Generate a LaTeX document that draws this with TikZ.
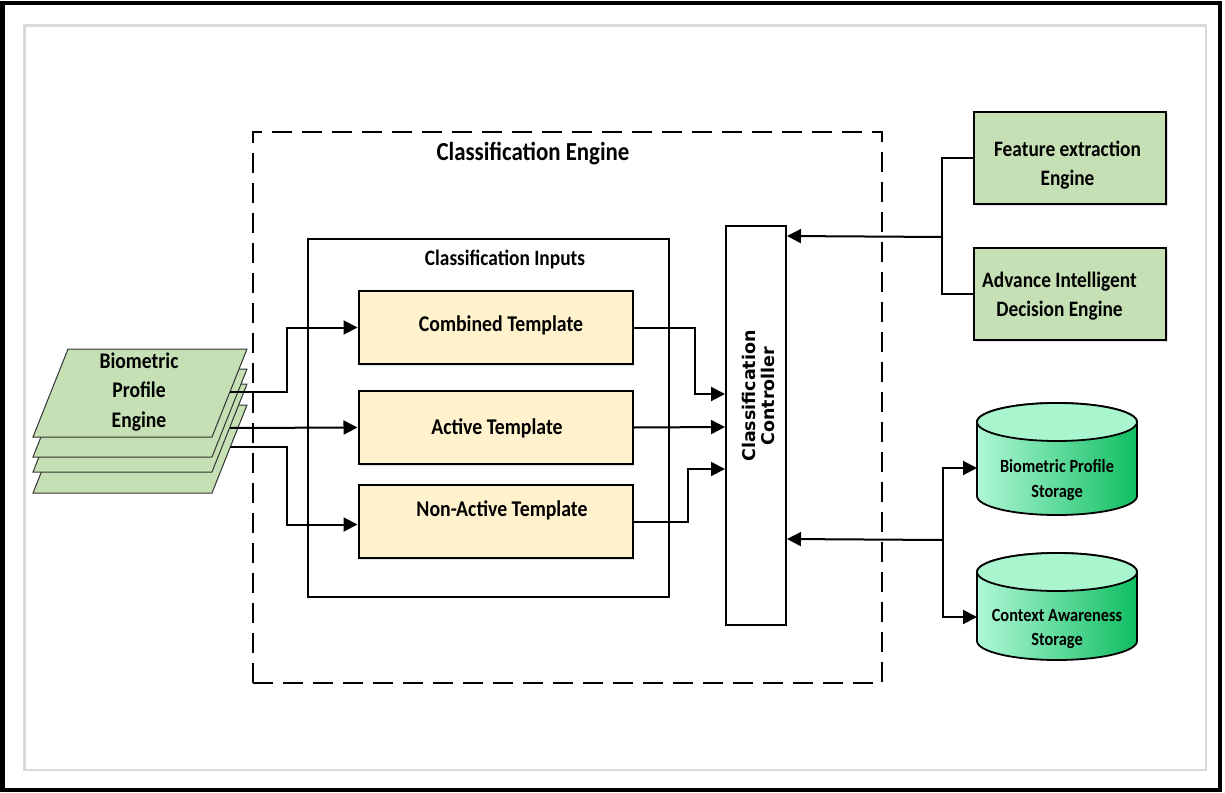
\documentclass[tikz,border=0pt]{standalone}
\usepackage{fontspec}
\setmainfont{Carlito}[FakeStretch=0.88]
\newfontfamily\ctrlfont{DejaVu Sans}
\usetikzlibrary{arrows.meta,shadows,calc}
\definecolor{boxgreen}{HTML}{C5E0B4}
\definecolor{tmplfill}{HTML}{FFF2CC}
\definecolor{cylL}{HTML}{B0F7D6}
\definecolor{cylR}{HTML}{10BE62}
\definecolor{cyltop}{HTML}{A8F5CE}
\definecolor{framegrey}{HTML}{D9D9D9}
\newcommand\mycyl[3]{%
  \path[left color=cylL, right color=cylR, draw=black, line width=1.8pt]
    (#1-80,#2) -- (#1-80,#3) arc[start angle=180,end angle=360,x radius=80pt,y radius=19pt]
    -- (#1+80,#2) arc[start angle=0,end angle=180,x radius=80pt,y radius=19pt] -- cycle;
  \draw[fill=cyltop, line width=1.8pt] (#1,#2) ellipse[x radius=80pt, y radius=19pt];}
\newcommand\mylayer[1]{%
  \draw[fill=boxgreen, draw=black!80, line width=1pt]
    (68,349+#1) -- (247,349+#1) -- (212,437+#1) -- (33,437+#1) -- cycle;}
\begin{document}
\begin{tikzpicture}[x=1pt,y=-1pt,
  lbl/.style={font=\bfseries\fontsize{22}{29}\selectfont, align=center, inner sep=0},
  tmpl/.style={draw, line width=2pt, fill=tmplfill, minimum width=274pt, minimum height=73pt, inner sep=0,
     drop shadow={shadow xshift=1.5pt, shadow yshift=-1.5pt, opacity=0.25}},
  gbox/.style={draw, line width=2pt, fill=boxgreen, minimum width=192pt, minimum height=92pt, inner sep=0,
     drop shadow={shadow xshift=1.5pt, shadow yshift=-1.5pt, opacity=0.25}},
  arr/.style={line width=2pt, -{Triangle[length=14pt,width=14pt]}},
  ln/.style={line width=2pt}]
\useasboundingbox (0,0) rectangle (1225,792);
% frames
\draw[line width=4.5pt] (2.5,3) rectangle (1220,790);
\draw[framegrey, line width=2.5pt] (24.5,25.5) rectangle (1206,770);
% classification engine
\node[draw, line width=2pt, dash pattern=on 20pt off 10pt, minimum width=629pt, minimum height=551pt, inner sep=0] (ce) at (567.5,407.5) {};
\node[lbl, font=\bfseries\fontsize{26}{30}\selectfont] (cet) at (533,154) {Classification Engine};
\node[draw, line width=2pt, minimum width=361pt, minimum height=358pt, inner sep=0] (ci) at (488.5,418) {};
\node[lbl] (cit) at (505,259) {Classification Inputs};
% templates
\node[tmpl] (comb) at (495.5,327.5) {};
\node[lbl, font=\bfseries\fontsize{22.5}{26}\selectfont] (combt) at (501,325) {Combined Template};
\node[tmpl] (act) at (495.5,427.5) {};
\node[lbl, font=\bfseries\fontsize{22.5}{26}\selectfont] (actt) at (497,428) {Active Template};
\node[tmpl] (nonact) at (495.5,521.5) {};
\node[lbl, font=\bfseries\fontsize{22.5}{26}\selectfont] (nonactt) at (502,510) {Non-Active Template};
% controller
\node[draw, line width=2pt, fill=white, minimum width=60pt, minimum height=399pt, inner sep=0] (ctrl) at (756,425.5) {};
\node[rotate=90, align=center, inner sep=0, font=\ctrlfont\bfseries\fontsize{17.5}{19}\selectfont] (ctrlt) at (758,396) {Classification\\Controller};
% right boxes
\node[gbox] (fe) at (1070,158) {};
\node[lbl] (fet) at (1067.5,165.5) {Feature extraction\\Engine};
\node[gbox] (ai) at (1070,294) {};
\node[lbl] (ait) at (1059.5,296) {Advance Intelligent\\Decision Engine};
% cylinders
\mycyl{1057}{422}{496}
\node[lbl, font=\bfseries\fontsize{18.6}{25}\selectfont] (bps) at (1057,480.5) {Biometric Profile\\Storage};
\mycyl{1057}{572}{641}
\node[lbl, font=\bfseries\fontsize{18.6}{24}\selectfont] (cas) at (1057,629) {Context Awareness\\Storage};
% stack
\mylayer{56}
\mylayer{35}
\mylayer{20}
\mylayer{0}
\node[lbl, font=\bfseries\fontsize{22.3}{29.5}\selectfont] (bpe) at (139,392) {Biometric\\Profile\\Engine};
% connectors from stack
\coordinate (s1) at (230,392);
\coordinate (s2) at (230,428);
\coordinate (s3) at (230,447);
\draw[arr] (s1) -- ++(57,0) |- (comb.west);
\draw[arr] (s2) -- (act.west);
\draw[arr] (s3) -- ++(57,0) |- ($(nonact.west)+(0,3)$);
% to controller
\draw[arr] (comb.east) -- ++(61,0) |- ($(ctrl.north west)+(0,169)$);
\draw[arr] (act.east) -- ($(ctrl.north west)+(0,202)$);
\draw[arr] (nonact.east) -- ++(54,0) |- ($(ctrl.north west)+(0,244)$);
% right side
\coordinate (j1) at (943,237);
\coordinate (j2) at (943,540);
\draw[ln] (fe.west) -- ++(-31,0) |- (ai.west);
\draw[arr] (j1) -- ($(ctrl.north east)+(0,11)$);
\coordinate (bpsin) at (977,468);
\coordinate (casin) at (977,617);
\draw[arr] (j2) -- ($(ctrl.north east)+(0,314)$);
\draw[arr] (j2) |- (bpsin);
\draw[arr] (j2) |- (casin);
\end{tikzpicture}
\end{document}
